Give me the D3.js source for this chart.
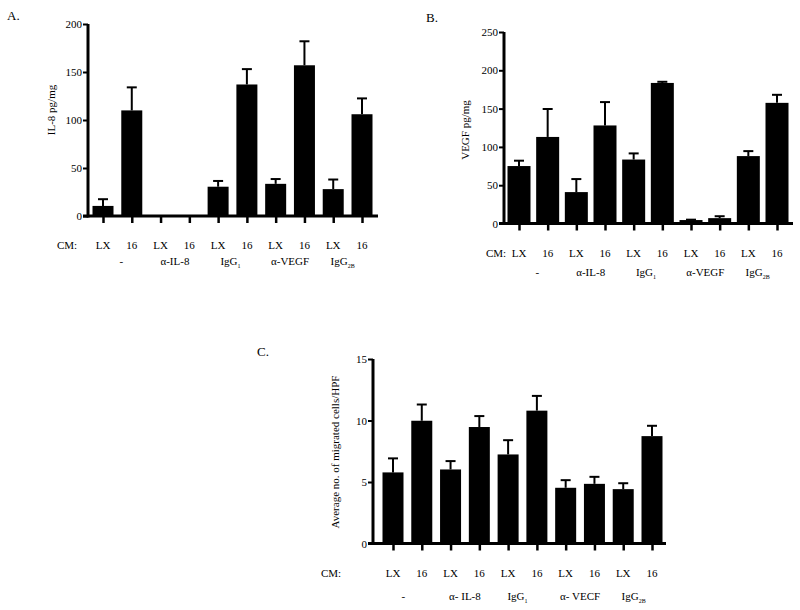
<!DOCTYPE html>
<html><head><meta charset="utf-8">
<script src="https://cdn.jsdelivr.net/npm/d3@7"></script>
<style>body{margin:0;background:#fff}svg{display:block}text{font-family:"Liberation Serif","Times New Roman",serif;fill:#000}</style>
</head><body><svg id="c" width="800" height="610"></svg>
<script>
const categories = ["LX","16","LX","16","LX","16","LX","16","LX","16"];
const groupsAB = [["-",""],["α-IL-8",""],["IgG","1"],["α-VEGF",""],["IgG","2B"]];
const groupsC = [["-",""],["α- IL-8",""],["IgG","1"],["α- VECF",""],["IgG","2B"]];
const il8Values = [10.5,110,0,0,30.5,137,33.5,157,28,106];
const il8Upper  = [17.5,134,0,0,36.5,153,38.5,182,38,122.5];
const vegfValues = [75,113,41,128,83.5,183.5,4.5,7,88,157.5];
const vegfUpper  = [82,149.5,58,158.5,91.5,185,5,9.5,94.5,168];
const migValues = [5.78,9.98,6.02,9.47,7.24,10.8,4.53,4.85,4.42,8.73];
const migUpper  = [6.92,11.3,6.7,10.36,8.4,12.0,5.15,5.42,4.9,9.57];
const ticksA = [0,50,100,150,200];
const ticksB = [0,50,100,150,200,250];
const ticksC = [0,5,10,15];

const svg = d3.select("#c");

function panel(cfg){
  const g = svg.append("g");
  const y = d3.scaleLinear().domain(cfg.domain).range([cfg.y0, cfg.y1]);
  const x = d3.scalePoint().domain(d3.range(categories.length)).range([cfg.t0, cfg.t1]);
  g.selectAll("rect.bar").data(cfg.values).join("rect")
    .attr("x",(d,i)=>x(i)-cfg.bw/2).attr("width",cfg.bw)
    .attr("y",d=>y(d)).attr("height",d=>cfg.y0-y(d)).attr("fill","#000");
  cfg.upper.forEach((u,i)=>{
    if(u<=cfg.values[i]) return;
    g.append("line").attr("x1",x(i)).attr("x2",x(i)).attr("y1",y(cfg.values[i])).attr("y2",y(u)).attr("stroke","#000").attr("stroke-width",2);
    g.append("line").attr("x1",x(i)-5).attr("x2",x(i)+5).attr("y1",y(u)).attr("y2",y(u)).attr("stroke","#000").attr("stroke-width",2);
  });
  const ya = g.append("g").attr("transform",`translate(${cfg.ax},0)`)
    .call(d3.axisLeft(y).tickValues(cfg.ticks).tickSize(5).tickPadding(1).tickSizeOuter(0));
  ya.select(".domain").attr("stroke-width",3).attr("d",`M0,${cfg.y0+1.5}V${y(cfg.domain[1])}`);
  ya.selectAll(".tick line").attr("stroke-width",2);
  ya.selectAll(".tick text").style("font-family","Liberation Serif").style("font-size","11px").attr("fill","#222");
  const xa = g.append("g").attr("transform",`translate(0,${cfg.y0})`)
    .call(d3.axisBottom(x).tickSize(7).tickFormat(()=>"").tickSizeOuter(0));
  xa.select(".domain").attr("stroke-width",3).attr("d",`M${cfg.ax-5},0H${cfg.xEnd}`);
  xa.selectAll(".tick line").attr("stroke-width",2.5);
  g.append("text").attr("x",cfg.cmX).attr("y",cfg.labY).attr("text-anchor","middle").style("font-size","11px").text("CM:");
  g.selectAll("text.cat").data(categories).join("text").attr("class","cat")
    .attr("x",(d,i)=>x(i)).attr("y",cfg.labY).attr("text-anchor","middle").style("font-size","11px").text(d=>d);
  cfg.groups.forEach((gr,k)=>{
    const t = g.append("text").attr("x",(x(2*k)+x(2*k+1))/2 + (cfg.gOff?cfg.gOff[k]:0)).attr("y",cfg.grpY).attr("text-anchor","middle").style("font-size","11px");
    t.append("tspan").text(gr[0]);
    if(gr[1]) t.append("tspan").attr("dy",3).style("font-size","6px").text(gr[1]);
  });
  g.append("text").attr("transform",`translate(${cfg.ylX},${cfg.ylY}) rotate(-90)`).attr("text-anchor","middle").style("font-size","11px").text(cfg.ylabel);
  g.append("text").attr("x",cfg.pX).attr("y",cfg.pY).style("font-size","13px").text(cfg.plabel);
}

panel({domain:[0,200],ticks:ticksA,values:il8Values,upper:il8Upper,y0:216,y1:24,t0:103,t1:362,bw:21,ax:88,xEnd:378,
  cmX:67,labY:249,grpY:265,groups:groupsAB,ylabel:"IL-8 pg/mg",ylX:55,ylY:110,plabel:"A.",pX:7,pY:20,gOff:[4,0,-2,0,-5]});
panel({domain:[0,250],ticks:ticksB,values:vegfValues,upper:vegfUpper,y0:223.5,y1:32,t0:519,t1:777,bw:23,ax:504,xEnd:793,
  cmX:496,labY:257,grpY:276,groups:groupsAB,ylabel:"VEGF pg/mg",ylX:469,ylY:130,plabel:"B.",pX:426,pY:22,gOff:[4,0,-2,0,-5]});
panel({domain:[0,15],ticks:ticksC,values:migValues,upper:migUpper,y0:543.5,y1:359,t0:393,t1:652,bw:21,ax:373,xEnd:666,
  cmX:331,labY:577,grpY:600,groups:groupsC,ylabel:"Average no. of migrated cells/HPF",ylX:339,ylY:452,plabel:"C.",pX:257,pY:356,gOff:[-4,0,-5,0,-4]});
</script></body></html>
